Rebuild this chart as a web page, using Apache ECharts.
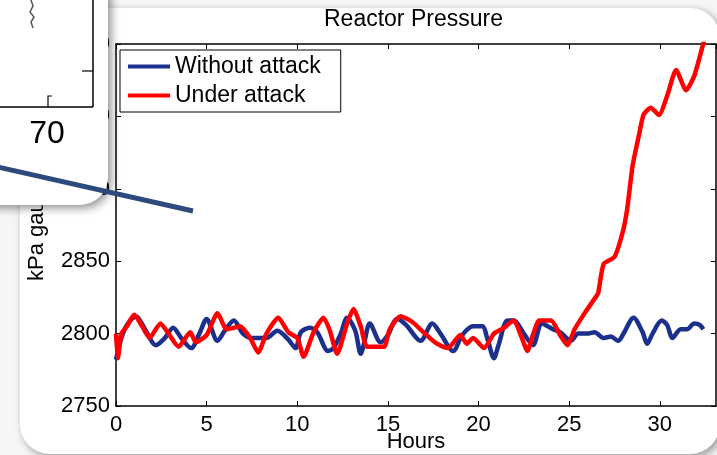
<!DOCTYPE html>
<html>
<head>
<meta charset="utf-8">
<script src="https://cdn.jsdelivr.net/npm/echarts@6/dist/echarts.min.js"></script>
<style>
  html, body { margin: 0; padding: 0; background: #f6f6f6; overflow: hidden; }
  #card { position: absolute; left: 20px; top: 8px; width: 700px; height: 446px; background: #fff;
          border-radius: 30px; box-shadow: 3px 3px 8px rgba(0,0,0,0.38); }
  #chart { position: absolute; left: 0; top: 0; width: 717px; height: 455px; }
</style>
</head>
<body>
<div id="card"></div>
<div id="chart"></div>
<script>
// ---- data ----
const hoursWithout = [0, 0.3, 0.6, 1.1, 1.6, 2.2, 2.7, 3.15, 3.6, 4.15, 4.6, 5.0, 5.6, 6.0, 6.5, 7.0, 7.5, 8.3, 8.9, 9.5, 9.9, 10.2, 10.7, 11.1, 11.7, 12.0, 12.4, 12.75, 13.2, 13.5, 13.7, 14.0, 14.6, 15.0, 15.5, 16.0, 16.8, 17.45, 17.9, 18.6, 19.1, 19.7, 20.2, 20.5, 20.85, 21.1, 21.6, 21.95, 22.5, 23.0, 23.5, 24.1, 24.5, 25.1, 25.5, 26.0, 26.4, 26.9, 27.3, 27.7, 28.0, 28.55, 29.05, 29.3, 29.6, 30.1, 30.4, 30.7, 31.15, 31.5, 31.9, 32.2, 32.4];
const kpaWithout = [2782, 2797, 2806, 2812, 2803, 2792, 2797, 2804, 2797, 2790, 2800, 2810, 2795, 2802, 2809, 2800, 2797, 2797, 2802, 2796, 2790, 2801, 2804, 2801, 2788, 2790, 2800, 2811, 2802, 2786, 2794, 2807, 2794, 2799, 2810, 2806, 2795, 2807, 2800, 2788, 2799, 2805, 2805, 2796, 2783, 2792, 2809, 2809, 2800, 2792, 2807, 2803, 2801, 2795, 2800, 2800, 2801, 2797, 2798, 2795, 2800, 2811, 2801, 2793, 2800, 2809, 2806, 2797, 2803, 2803, 2807, 2806, 2803];

const hoursUnder = [0, 0.1, 0.3, 0.6, 1.0, 1.4, 1.85, 2.45, 2.9, 3.45, 4.1, 4.4, 5.0, 5.6, 6.1, 6.5, 6.85, 7.4, 7.85, 8.3, 8.95, 9.5, 10.0, 10.35, 10.9, 11.45, 11.8, 12.2, 12.75, 13.1, 13.5, 13.85, 14.5, 14.8, 15.1, 15.7, 16.35, 16.95, 17.7, 18.3, 19.0, 19.35, 19.7, 20.3, 20.85, 21.4, 21.95, 22.3, 22.7, 23.0, 23.35, 24.0, 24.5, 24.9, 25.3, 25.9, 26.4, 26.6, 26.9, 27.5, 27.95, 28.2, 28.5, 28.85, 29.1, 29.5, 29.95, 30.4, 30.9, 31.45, 31.9, 32.35, 32.5];
const kpaUnder = [2800, 2783, 2800, 2805, 2813, 2806, 2797, 2807, 2800, 2791, 2801, 2794, 2799, 2814, 2803, 2804, 2805, 2797, 2787, 2800, 2811, 2801, 2797, 2784, 2801, 2811, 2802, 2786, 2807, 2817, 2805, 2791, 2791, 2791, 2803, 2812, 2808, 2801, 2793, 2790, 2799, 2793, 2797, 2790, 2800, 2804, 2809, 2800, 2788, 2799, 2809, 2809, 2799, 2792, 2803, 2815, 2824, 2828, 2848, 2853, 2870, 2886, 2916, 2937, 2951, 2956, 2951, 2964, 2982, 2968, 2978, 2998, 3005];

const seriesNames = ['Without attack', 'Under attack'];
const chartTitle = 'Reactor Pressure';
const xAxisTitle = 'Hours';
const yAxisTitle = 'kPa gauge';
const xRange = [0, 33.1, 5];
const yRange = [2750, 3000, 50];
const insetTickLabel = '70';

// ---- build ----
const FONT = '"Liberation Sans", Arial, sans-serif';
const zip = (xs, ys) => xs.map((x, i) => [x, ys[i]]);

const axisCommon = {
  type: 'value',
  axisLine: { show: true, onZero: false, lineStyle: { color: '#000', width: 1.5 } },
  axisTick: { show: true, inside: true, length: 5, lineStyle: { color: '#000', width: 1 } },
  splitLine: { show: false }
};

const chart = echarts.init(document.getElementById('chart'), null, { renderer: 'canvas' });
chart.setOption({
  backgroundColor: 'transparent',
  animation: false,
  textStyle: { fontFamily: FONT },
  title: {
    text: chartTitle, left: 324, top: 8, padding: 0,
    textStyle: { fontFamily: FONT, fontSize: 23, fontWeight: 'normal', color: '#000' }
  },
  legend: {
    left: 120, top: 50, orient: 'vertical',
    backgroundColor: '#fff', borderColor: '#000', borderWidth: 1,
    padding: [5, 20, 5, 8], itemGap: 6,
    itemWidth: 42, itemHeight: 4, icon: 'rect',
    textStyle: { fontFamily: FONT, fontSize: 23, color: '#000' },
    data: seriesNames
  },
  grid: { left: 116, top: 44, right: 1, bottom: 49, containLabel: false, outerBoundsMode: 'none' },
  xAxis: [
    Object.assign({}, axisCommon, {
      position: 'bottom', min: xRange[0], max: xRange[1], interval: xRange[2],
      axisLabel: { fontFamily: FONT, fontSize: 22, color: '#000', margin: 8, showMaxLabel: false },
      name: xAxisTitle, nameLocation: 'middle', nameGap: 25, nameMoveOverlap: false,
      nameTextStyle: { fontFamily: FONT, fontSize: 22, color: '#000' }
    }),
    Object.assign({}, axisCommon, {
      position: 'top', min: xRange[0], max: xRange[1], interval: xRange[2],
      axisLabel: { show: false }
    })
  ],
  yAxis: [
    Object.assign({}, axisCommon, {
      position: 'left', min: yRange[0], max: yRange[1], interval: yRange[2],
      axisLabel: { fontFamily: FONT, fontSize: 22, color: '#000', margin: 6, formatter: v => String(v) }
    }),
    Object.assign({}, axisCommon, {
      position: 'right', min: yRange[0], max: yRange[1], interval: yRange[2],
      axisLabel: { show: false }
    })
  ],
  series: [
    {
      name: seriesNames[0], type: 'line', xAxisIndex: 0, yAxisIndex: 0,
      data: zip(hoursWithout, kpaWithout), showSymbol: false, smooth: 0.3,
      color: '#1b2f8c', lineStyle: { width: 4.5, color: '#1b2f8c' }, z: 2
    },
    {
      name: seriesNames[1], type: 'line', xAxisIndex: 0, yAxisIndex: 0,
      data: zip(hoursUnder, kpaUnder), showSymbol: false, smooth: 0.2,
      color: '#ff0000', lineStyle: { width: 4.5, color: '#ff0000' }, z: 3
    }
  ],
  graphic: [
    {
      type: 'text', z: 5, x: 26, y: 281, rotation: Math.PI / 2,
      style: { text: yAxisTitle, fontSize: 22, fontFamily: FONT, fill: '#000', align: 'left', verticalAlign: 'top' }
    },
    {
      type: 'group', zlevel: 1, z: 100, children: [
        { type: 'rect', zlevel: 1, z: 100, shape: { x: -40, y: -40, width: 148, height: 245, r: 28 },
          style: { fill: '#fff', shadowBlur: 10, shadowColor: 'rgba(0,0,0,0.45)', shadowOffsetX: 3, shadowOffsetY: 3 } },
        { type: 'line', zlevel: 1, z: 101, shape: { x1: 93, y1: 0, x2: 93, y2: 107 }, style: { stroke: '#000', lineWidth: 1.5 } },
        { type: 'line', zlevel: 1, z: 101, shape: { x1: 0, y1: 107, x2: 93, y2: 107 }, style: { stroke: '#000', lineWidth: 1.5 } },
        { type: 'polyline', zlevel: 1, z: 101, shape: { points: [[52, 96], [48, 96], [48, 107]] }, style: { stroke: '#000', lineWidth: 1.2, fill: null } },
        { type: 'line', zlevel: 1, z: 101, shape: { x1: 82, y1: 71, x2: 93, y2: 71 }, style: { stroke: '#000', lineWidth: 1.2 } },
        { type: 'polyline', zlevel: 1, z: 101, shape: { points: [[31, 0], [33, 6], [30, 12], [34, 17], [31, 22], [33, 28]] }, style: { stroke: '#555', lineWidth: 1.5, fill: null } },
        { type: 'text', zlevel: 1, z: 101, x: 47, y: 134, style: { text: insetTickLabel, fontSize: 32, fontFamily: FONT, fill: '#000', align: 'center', verticalAlign: 'middle' } },
        { type: 'line', zlevel: 1, z: 102, shape: { x1: -2, y1: 167, x2: 193, y2: 211 }, style: { stroke: '#2c4a7c', lineWidth: 5 } }
      ]
    }
  ]
});
</script>
</body>
</html>
